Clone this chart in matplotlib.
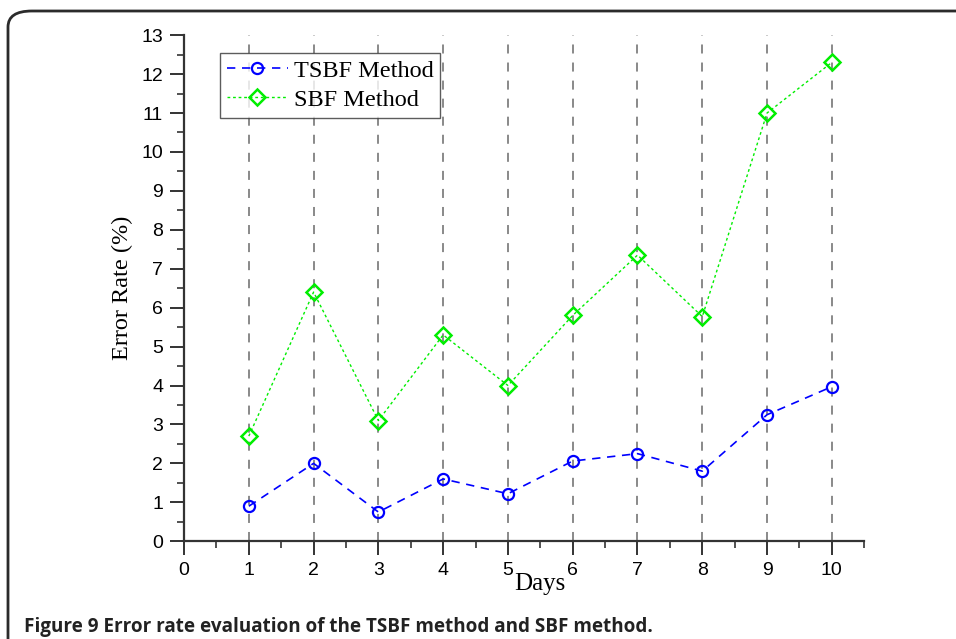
import matplotlib.pyplot as plt
import numpy as np
from matplotlib.patches import FancyBboxPatch
from matplotlib.ticker import MultipleLocator

# Values
days = [1, 2, 3, 4, 5, 6, 7, 8, 9, 10]
tsbf_rate = [0.9, 2.0, 0.75, 1.6, 1.22, 2.06, 2.25, 1.8, 3.25, 3.97]
sbf_rate = [2.7, 6.4, 3.1, 5.3, 4.0, 5.8, 7.35, 5.77, 11.0, 12.3]
x_ticks = np.arange(0, 11)
y_ticks = np.arange(0, 14)

fig = plt.figure(figsize=(9.56, 6.39), dpi=100)
ax = fig.add_axes([0.1925, 0.153, 0.7115, 0.792])

# rounded frame around the figure (runs off right and bottom)
frame = FancyBboxPatch((8 / 956, -0.2), 1.2, 1 - 11 / 639 + 0.2,
                       boxstyle='round,pad=0,rounding_size=0.025',
                       transform=fig.transFigure, fill=False,
                       edgecolor='#2b2b2b', linewidth=2, clip_on=False)
fig.patches.append(frame)

# vertical dashed guide lines
for d in days:
    ax.plot([d, d], [0, 13], color='#808080', linestyle=(0, (5, 5)), linewidth=1.3, zorder=1)

ax.plot(days, tsbf_rate, color='#0000ff', linestyle=(0, (5, 4)), linewidth=1.2,
        marker='o', markersize=8, markerfacecolor='none', markeredgewidth=1.6,
        markeredgecolor='#0000ff', label='TSBF Method', zorder=3)
ax.plot(days, sbf_rate, color='#00ee00', linestyle=(0, (2, 2)), linewidth=1.0,
        marker='D', markersize=8, markerfacecolor='none', markeredgewidth=1.8,
        markeredgecolor='#00ee00', label='SBF Method', zorder=3)

ax.set_xlim(0, 10.5)
ax.set_ylim(0, 13)
ax.set_xticks(x_ticks)
ax.set_yticks(y_ticks)
ax.xaxis.set_minor_locator(MultipleLocator(0.5))
ax.yaxis.set_minor_locator(MultipleLocator(0.5))

ax.spines['top'].set_visible(False)
ax.spines['right'].set_visible(False)
for s in ['left', 'bottom']:
    ax.spines[s].set_linewidth(1.6)
    ax.spines[s].set_color('#333333')
    ax.spines[s].set_zorder(4)

ax.tick_params(axis='both', which='major', direction='out', length=10, width=1.4,
               color='#333333', labelsize=14, pad=5)
ax.tick_params(axis='both', which='minor', direction='out', length=5, width=1.2,
               color='#333333')
for lab in ax.get_xticklabels() + ax.get_yticklabels():
    lab.set_fontfamily('Liberation Sans')

ax.set_xlabel('Days', fontsize=18, family='Liberation Serif', va='center')
ax.xaxis.set_label_coords(0.5235, -0.085)
ax.set_ylabel('Error Rate (%)', fontsize=17.5, family='Liberation Serif', va='center')
ax.yaxis.set_label_coords(-0.091, 0.5)

leg = ax.legend(loc='upper left', bbox_to_anchor=(36 / 680, 1 - 18 / 506),
                prop={'family': 'Liberation Serif', 'size': 17.5},
                frameon=True, fancybox=False, edgecolor='#333333',
                handlelength=2.5, handletextpad=0.25, borderpad=0.28,
                labelspacing=0.28, borderaxespad=0)
leg.get_frame().set_linewidth(1.0)

fig.text(24 / 956, 1 - 627 / 639, 'Figure 9 Error rate evaluation of the TSBF method and SBF method.',
         fontsize=13.6, fontweight='bold', family='Open Sans', va='center', ha='left', color='#222222')

fig.savefig('out.png', dpi=100)
